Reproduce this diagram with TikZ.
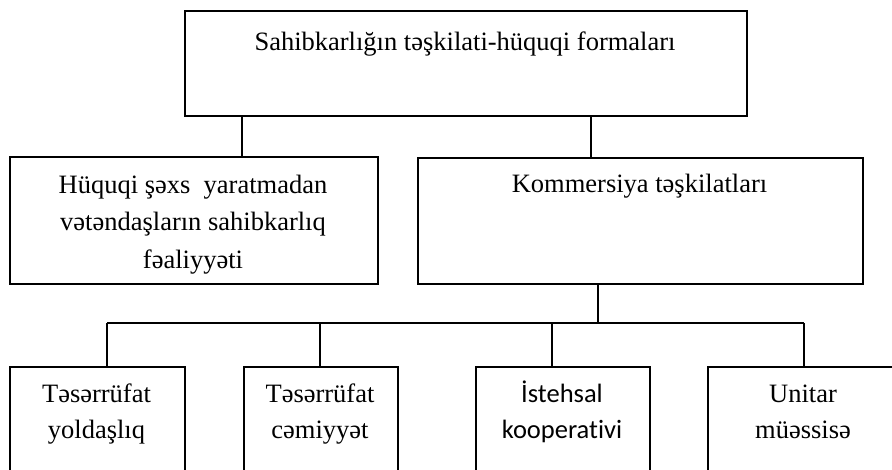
\documentclass[tikz,border=0pt]{standalone}
\usepackage{fontspec}
\setmainfont{Liberation Serif}
\newfontfamily\calib[Ligatures={NoCommon}]{Carlito}
\begin{document}
\begin{tikzpicture}[x=1pt,y=-1pt,
  box/.style={draw=black, line width=2.2pt, rectangle, inner sep=0pt, anchor=north west},
  conn/.style={draw=black, line width=1.8pt},
  lbl/.style={inner sep=0pt, align=center, anchor=center, font=\fontsize{26.5}{37.5}\selectfont},
  lblb/.style={inner sep=0pt, align=center, anchor=center, font=\fontsize{26.5}{36}\selectfont},
  lblc/.style={inner sep=0pt, align=center, anchor=center, font=\calib\fontsize{26.5}{36}\selectfont}]
\fill[white] (0,0) rectangle (892,469);
\useasboundingbox (0,0) rectangle (892,469);
\clip (0,0) rectangle (892,469);

% boxes
\node[box, minimum width=562pt, minimum height=105pt] (top) at (184,10) {};
\node[box, minimum width=368pt, minimum height=127pt] (lbox) at (9,156) {};
\node[box, minimum width=445pt, minimum height=126pt] (rbox) at (417,157) {};
\node[box, minimum width=175pt, minimum height=140pt] (b1) at (9,366) {};
\node[box, minimum width=154pt, minimum height=140pt] (b2) at (243,366) {};
\node[box, minimum width=174pt, minimum height=140pt] (b3) at (475,366) {};
\node[box, minimum width=192pt, minimum height=140pt] (b4) at (707,366) {};

% texts
\node[lbl] (topt) at (465,42.5) {\strut Sahibkarlığın təşkilati-hüquqi formaları};
\node[lbl] (lboxt) at (193,223) {\strut Hüquqi şəxs~ yaratmadan\\\strut vətəndaşların sahibkarlıq\\\strut fəaliyyəti};
\node[lbl] (rboxt) at (639.5,184.5) {\strut Kommersiya təşkilatları};
\node[lblb] (b1t) at (96.5,413) {\strut Təsərrüfat\\\strut yoldaşlıq};
\node[lblb] (b2t) at (320,413) {\strut Təsərrüfat\\\strut cəmiyyət};
\node[lblc] (b3t) at (562,413) {\strut İstehsal\\\strut kooperativi};
\node[lblb] (b4t) at (803,413) {\strut Unitar\\\strut müəssisə};

% connectors
\coordinate (c1) at (242,0);
\coordinate (c2) at (591,0);
\draw[conn] (top.south -| c1) -- (lbox.north -| c1);
\draw[conn] (top.south -| c2) -- (rbox.north -| c2);
\coordinate (bus) at (598,323);
\draw[conn] (rbox.south -| bus) -- (bus);
\coordinate (k1) at (107,323);
\coordinate (k2) at (320,323);
\coordinate (k3) at (552,323);
\coordinate (k4) at (804,323);
\draw[conn] (k1) -- (k4);
\draw[conn] (k1) -- (b1.north -| k1);
\draw[conn] (k2) -- (b2.north -| k2);
\draw[conn] (k3) -- (b3.north -| k3);
\draw[conn] (k4) -- (b4.north -| k4);
\end{tikzpicture}
\end{document}
